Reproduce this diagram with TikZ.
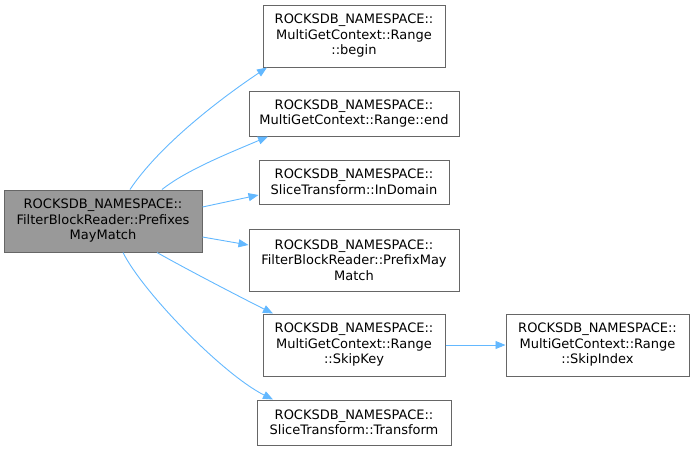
\documentclass[tikz,border=0pt]{standalone}
\usepackage{fontspec}
\setmainfont{DejaVu Sans}
\usetikzlibrary{arrows.meta}
\definecolor{edgeblue}{HTML}{63B8FF}
\definecolor{boxgray}{HTML}{999999}
\definecolor{bordergray}{HTML}{666666}
\tikzset{
  fn/.style={draw=bordergray, line width=1pt, fill=white, inner sep=0pt, align=center,
    font=\fontsize{13}{15.5}\selectfont, text=black},
  edge/.style={draw=edgeblue, line width=0.9pt, -{Triangle[length=10pt,width=8pt]}},
}
\begin{document}
\begin{tikzpicture}[x=1pt,y=-1pt]
\useasboundingbox (0,0) rectangle (694,451);
\node[fn, fill=boxgray, minimum width=198pt, minimum height=62pt] (A) at (103,221) {ROCKSDB\_NAMESPACE::\\FilterBlockReader::Prefixes\\MayMatch};
\node[fn, minimum width=182pt, minimum height=62pt] (B) at (354,36) {ROCKSDB\_NAMESPACE::\\MultiGetContext::Range\\::begin};
\node[fn, minimum width=210pt, minimum height=45pt] (C) at (354,113.5) {ROCKSDB\_NAMESPACE::\\MultiGetContext::Range::end};
\node[fn, minimum width=190pt, minimum height=44pt] (D) at (354,182) {ROCKSDB\_NAMESPACE::\\SliceTransform::InDomain};
\node[fn, minimum width=210pt, minimum height=62pt] (E) at (354,260) {ROCKSDB\_NAMESPACE::\\FilterBlockReader::PrefixMay\\Match};
\node[fn, minimum width=182pt, minimum height=62pt] (F) at (354,345) {ROCKSDB\_NAMESPACE::\\MultiGetContext::Range\\::SkipKey};
\node[fn, minimum width=183pt, minimum height=62pt] (G) at (597.5,345) {ROCKSDB\_NAMESPACE::\\MultiGetContext::Range\\::SkipIndex};
\node[fn, minimum width=194pt, minimum height=45pt] (H) at (354,422.5) {ROCKSDB\_NAMESPACE::\\SliceTransform::Transform};
\draw[edge] ([xshift=27pt]A.north) .. controls +(30,-45) and +(-45,30) .. ([xshift=-87pt]B.south);
\draw[edge] ([xshift=59pt]A.north) .. controls +(25,-20) and +(-35,15) .. ([xshift=-86pt]C.south);
\draw[edge] ([yshift=14pt]A.east) -- ([yshift=-13pt]D.west);
\draw[edge] ([yshift=-16pt]A.east) -- ([yshift=15pt]E.west);
\draw[edge] ([xshift=54pt]A.south) .. controls +(30,17) and +(-30,-15) .. ([xshift=-81pt]F.north);
\draw[edge] ([xshift=20pt]A.south) .. controls +(20,40) and +(-50,-25) .. ([xshift=-81pt]H.north);
\draw[edge] (F.east) -- (G.west);
\end{tikzpicture}
\end{document}
